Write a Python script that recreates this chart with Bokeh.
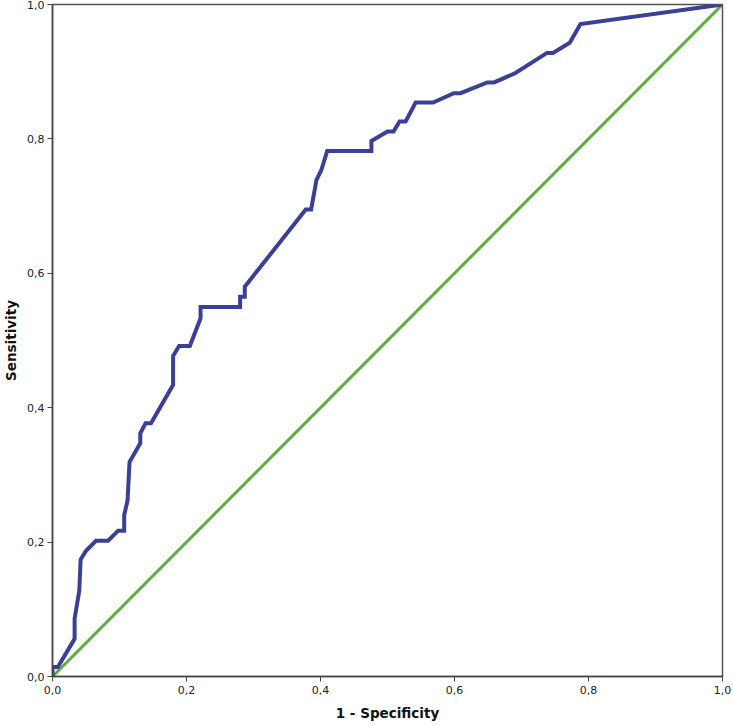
from bokeh.plotting import figure
from bokeh.models import FixedTicker, Range1d
from bokeh.embed import file_html
from bokeh.resources import INLINE

# ROC curve (1 - specificity, sensitivity)
fpr = [0.0, 0.0, 0.008, 0.033, 0.033, 0.040, 0.042, 0.050, 0.065, 0.083, 0.098, 0.107,
       0.107, 0.112, 0.115, 0.131, 0.131, 0.139, 0.147, 0.180, 0.180, 0.189, 0.205,
       0.221, 0.221, 0.280, 0.280, 0.287, 0.287, 0.378, 0.386, 0.394, 0.401, 0.410,
       0.476, 0.476, 0.500, 0.509, 0.518, 0.527, 0.542, 0.568, 0.599, 0.609, 0.649,
       0.659, 0.691, 0.738, 0.747, 0.772, 0.788, 1.0]
tpr = [0.0, 0.014, 0.014, 0.056, 0.086, 0.128, 0.174, 0.187, 0.202, 0.202, 0.217, 0.217,
       0.240, 0.262, 0.319, 0.347, 0.362, 0.377, 0.377, 0.434, 0.477, 0.492, 0.492,
       0.533, 0.550, 0.550, 0.565, 0.565, 0.580, 0.695, 0.695, 0.739, 0.753, 0.782,
       0.782, 0.797, 0.811, 0.811, 0.826, 0.826, 0.854, 0.854, 0.868, 0.868, 0.884,
       0.884, 0.898, 0.928, 0.928, 0.943, 0.971, 1.0]
ref_x = [0.0, 1.0]
ref_y = [0.0, 1.0]
tick_values = [0.0, 0.2, 0.4, 0.6, 0.8, 1.0]
tick_labels = ["0,0", "0,2", "0,4", "0,6", "0,8", "1,0"]

p = figure(frame_width=670, frame_height=672, output_backend="svg", toolbar_location=None,
           x_range=Range1d(0, 1), y_range=Range1d(0, 1),
           min_border_left=0, min_border_right=10, min_border_top=4, min_border_bottom=0)
p.background_fill_color = "white"
p.border_fill_color = "white"
p.grid.visible = False
p.outline_line_color = "#555555"
p.outline_line_width = 1.5

overrides = {v: l for v, l in zip(tick_values, tick_labels)}
for ax in (p.xaxis[0], p.yaxis[0]):
    ax.ticker = FixedTicker(ticks=tick_values)
    ax.major_label_overrides = overrides
    ax.minor_tick_line_color = None
    ax.major_tick_in = 0
    ax.major_tick_out = 5
    ax.axis_line_color = "#444444"
    ax.axis_line_width = 1.5
    ax.major_tick_line_color = "#444444"
    ax.major_label_text_font = "DejaVu Sans"
    ax.major_label_text_font_size = "11px"
    ax.major_label_text_color = "#222222"
    ax.axis_label_text_font = "DejaVu Sans"
    ax.axis_label_text_font_style = "bold"
    ax.axis_label_text_font_size = "13.5px"
    ax.axis_label_text_color = "#111111"

p.xaxis.axis_label = "1 - Specificity"
p.yaxis.axis_label = "Sensitivity"
p.xaxis.axis_label_standoff = 8
p.yaxis.axis_label_standoff = 5
p.xaxis.major_label_standoff = 4
p.yaxis.major_label_standoff = 3

p.line(ref_x, ref_y, line_color="#5cae3e", line_width=3)
p.line(fpr, tpr, line_color="#3b3f98", line_width=4, line_join="miter")

open("out.html", "w").write(file_html(p, INLINE))
